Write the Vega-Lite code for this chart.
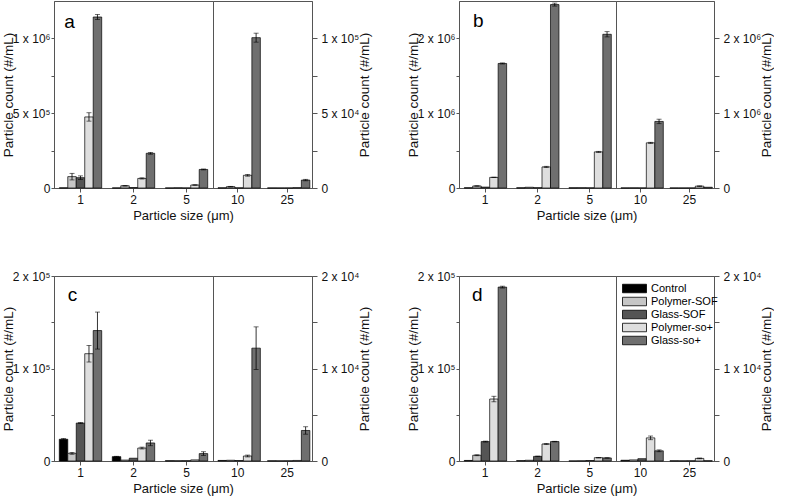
{
  "$schema": "https://vega.github.io/schema/vega-lite/v6.json",
  "padding": 0,
  "background": "white",
  "datasets": {
    "bars": [
      {"panel":"a","size":"1","group":"Control","value":1000},
      {"panel":"a","size":"1","group":"Polymer-SOF","value":76000,"lo":54000,"hi":98000},
      {"panel":"a","size":"1","group":"Glass-SOF","value":69000,"lo":57000,"hi":81000},
      {"panel":"a","size":"1","group":"Polymer-so+","value":475000,"lo":447000,"hi":503000},
      {"panel":"a","size":"1","group":"Glass-so+","value":1143000,"lo":1126000,"hi":1160000},
      {"panel":"a","size":"2","group":"Control","value":500},
      {"panel":"a","size":"2","group":"Polymer-SOF","value":15000,"lo":13000,"hi":17000},
      {"panel":"a","size":"2","group":"Glass-SOF","value":3000},
      {"panel":"a","size":"2","group":"Polymer-so+","value":64000,"lo":60000,"hi":68000},
      {"panel":"a","size":"2","group":"Glass-so+","value":232000,"lo":226000,"hi":238000},
      {"panel":"a","size":"5","group":"Control","value":300},
      {"panel":"a","size":"5","group":"Polymer-SOF","value":1500},
      {"panel":"a","size":"5","group":"Glass-SOF","value":300},
      {"panel":"a","size":"5","group":"Polymer-so+","value":20000,"lo":18000,"hi":22000},
      {"panel":"a","size":"5","group":"Glass-so+","value":124000,"lo":121000,"hi":127000},
      {"panel":"a","size":"10","group":"Control","value":100},
      {"panel":"a","size":"10","group":"Polymer-SOF","value":900,"lo":700,"hi":1100},
      {"panel":"a","size":"10","group":"Glass-SOF","value":100},
      {"panel":"a","size":"10","group":"Polymer-so+","value":8500,"lo":7900,"hi":9100},
      {"panel":"a","size":"10","group":"Glass-so+","value":100500,"lo":97500,"hi":103500},
      {"panel":"a","size":"25","group":"Control","value":30},
      {"panel":"a","size":"25","group":"Polymer-SOF","value":30},
      {"panel":"a","size":"25","group":"Glass-SOF","value":30},
      {"panel":"a","size":"25","group":"Polymer-so+","value":250},
      {"panel":"a","size":"25","group":"Glass-so+","value":5300,"lo":4800,"hi":5800},

      {"panel":"b","size":"1","group":"Control","value":3000},
      {"panel":"b","size":"1","group":"Polymer-SOF","value":27000,"lo":24000,"hi":30000},
      {"panel":"b","size":"1","group":"Glass-SOF","value":12000},
      {"panel":"b","size":"1","group":"Polymer-so+","value":142000,"lo":139000,"hi":145000},
      {"panel":"b","size":"1","group":"Glass-so+","value":1665000,"lo":1658000,"hi":1672000},
      {"panel":"b","size":"2","group":"Control","value":2000},
      {"panel":"b","size":"2","group":"Polymer-SOF","value":10000},
      {"panel":"b","size":"2","group":"Glass-SOF","value":4000},
      {"panel":"b","size":"2","group":"Polymer-so+","value":282000,"lo":274000,"hi":290000},
      {"panel":"b","size":"2","group":"Glass-so+","value":2452000,"lo":2432000,"hi":2472000},
      {"panel":"b","size":"5","group":"Control","value":2000},
      {"panel":"b","size":"5","group":"Polymer-SOF","value":4000},
      {"panel":"b","size":"5","group":"Glass-SOF","value":2000},
      {"panel":"b","size":"5","group":"Polymer-so+","value":483000,"lo":476000,"hi":490000},
      {"panel":"b","size":"5","group":"Glass-so+","value":2055000,"lo":2020000,"hi":2090000},
      {"panel":"b","size":"10","group":"Control","value":1000},
      {"panel":"b","size":"10","group":"Polymer-SOF","value":2000},
      {"panel":"b","size":"10","group":"Glass-SOF","value":1000},
      {"panel":"b","size":"10","group":"Polymer-so+","value":604000,"lo":597000,"hi":611000},
      {"panel":"b","size":"10","group":"Glass-so+","value":890000,"lo":860000,"hi":920000},
      {"panel":"b","size":"25","group":"Control","value":500},
      {"panel":"b","size":"25","group":"Polymer-SOF","value":500},
      {"panel":"b","size":"25","group":"Glass-SOF","value":500},
      {"panel":"b","size":"25","group":"Polymer-so+","value":25000,"lo":22000,"hi":28000},
      {"panel":"b","size":"25","group":"Glass-so+","value":10000},

      {"panel":"c","size":"1","group":"Control","value":23500,"lo":22700,"hi":24300},
      {"panel":"c","size":"1","group":"Polymer-SOF","value":8300,"lo":7300,"hi":9300},
      {"panel":"c","size":"1","group":"Glass-SOF","value":41000,"lo":40500,"hi":41500},
      {"panel":"c","size":"1","group":"Polymer-so+","value":116000,"lo":107000,"hi":125000},
      {"panel":"c","size":"1","group":"Glass-so+","value":141000,"lo":121000,"hi":161000},
      {"panel":"c","size":"2","group":"Control","value":4700,"lo":4300,"hi":5100},
      {"panel":"c","size":"2","group":"Polymer-SOF","value":1000},
      {"panel":"c","size":"2","group":"Glass-SOF","value":3000},
      {"panel":"c","size":"2","group":"Polymer-so+","value":14000,"lo":13000,"hi":15000},
      {"panel":"c","size":"2","group":"Glass-so+","value":19500,"lo":16500,"hi":22500},
      {"panel":"c","size":"5","group":"Control","value":300},
      {"panel":"c","size":"5","group":"Polymer-SOF","value":300},
      {"panel":"c","size":"5","group":"Glass-SOF","value":300},
      {"panel":"c","size":"5","group":"Polymer-so+","value":1200},
      {"panel":"c","size":"5","group":"Glass-so+","value":8000,"lo":6000,"hi":10000},
      {"panel":"c","size":"10","group":"Control","value":60},
      {"panel":"c","size":"10","group":"Polymer-SOF","value":80},
      {"panel":"c","size":"10","group":"Glass-SOF","value":50},
      {"panel":"c","size":"10","group":"Polymer-so+","value":540,"lo":440,"hi":640},
      {"panel":"c","size":"10","group":"Glass-so+","value":12200,"lo":9900,"hi":14500},
      {"panel":"c","size":"25","group":"Control","value":20},
      {"panel":"c","size":"25","group":"Polymer-SOF","value":20},
      {"panel":"c","size":"25","group":"Glass-SOF","value":20},
      {"panel":"c","size":"25","group":"Polymer-so+","value":60},
      {"panel":"c","size":"25","group":"Glass-so+","value":3300,"lo":2900,"hi":3700},

      {"panel":"d","size":"1","group":"Control","value":600},
      {"panel":"d","size":"1","group":"Polymer-SOF","value":6200,"lo":5700,"hi":6700},
      {"panel":"d","size":"1","group":"Glass-SOF","value":21000,"lo":20500,"hi":21500},
      {"panel":"d","size":"1","group":"Polymer-so+","value":67000,"lo":64000,"hi":70000},
      {"panel":"d","size":"1","group":"Glass-so+","value":188000,"lo":187000,"hi":189000},
      {"panel":"d","size":"2","group":"Control","value":400},
      {"panel":"d","size":"2","group":"Polymer-SOF","value":800},
      {"panel":"d","size":"2","group":"Glass-SOF","value":5000,"lo":4700,"hi":5300},
      {"panel":"d","size":"2","group":"Polymer-so+","value":18400,"lo":17800,"hi":19000},
      {"panel":"d","size":"2","group":"Glass-so+","value":21000,"lo":20700,"hi":21300},
      {"panel":"d","size":"5","group":"Control","value":100},
      {"panel":"d","size":"5","group":"Polymer-SOF","value":200},
      {"panel":"d","size":"5","group":"Glass-SOF","value":500},
      {"panel":"d","size":"5","group":"Polymer-so+","value":3600,"lo":3300,"hi":3900},
      {"panel":"d","size":"5","group":"Glass-so+","value":3300,"lo":3100,"hi":3500},
      {"panel":"d","size":"10","group":"Control","value":80},
      {"panel":"d","size":"10","group":"Polymer-SOF","value":120},
      {"panel":"d","size":"10","group":"Glass-SOF","value":250},
      {"panel":"d","size":"10","group":"Polymer-so+","value":2500,"lo":2300,"hi":2700},
      {"panel":"d","size":"10","group":"Glass-so+","value":1100,"lo":1000,"hi":1200},
      {"panel":"d","size":"25","group":"Control","value":20},
      {"panel":"d","size":"25","group":"Polymer-SOF","value":20},
      {"panel":"d","size":"25","group":"Glass-SOF","value":20},
      {"panel":"d","size":"25","group":"Polymer-so+","value":280,"lo":240,"hi":320},
      {"panel":"d","size":"25","group":"Glass-so+","value":30}
    ]
  },
  "data": {"name": "bars"},
  "spacing": 46,
  "vconcat": [
    {
      "spacing": 33,
      "hconcat": [
        {
          "spacing": 0, "bounds": "flush",
          "hconcat": [
            {
              "width": 159, "height": 187,
              "transform": [{"filter": {"field": "panel", "equal": "a"}}, {"filter": {"field": "size", "oneOf": ["1","2","5"]}}],
              "encoding": {"x": {"field": "size", "type": "nominal", "scale": {"domain": ["1","2","5"], "paddingInner": 0.2, "paddingOuter": 0.1}, "axis": {"title": "Particle size (μm)", "titleX": 129, "titleY": 21}}},
              "layer": [
                {"mark": {"type": "bar", "stroke": "#000", "strokeWidth": 0.7},
                 "encoding": {
                   "xOffset": {"field": "group", "type": "nominal", "scale": {"domain": ["Control","Polymer-SOF","Glass-SOF","Polymer-so+","Glass-so+"]}},
                   "y": {"field": "value", "type": "quantitative", "scale": {"domain": [0, 1250000], "nice": false}, "axis": {"orient": "left", "values": [0, 250000, 500000, 750000, 1000000], "labelExpr": "datum.value==0?'0':datum.value==500000?'5 x 10⁵':datum.value==1000000?'1 x 10⁶':''", "title": "Particle count (#/mL)", "titleX": -39}},
                   "color": {"field": "group", "type": "nominal", "title": null, "scale": {"domain": ["Control","Polymer-SOF","Glass-SOF","Polymer-so+","Glass-so+"], "range": ["#000000","#c6c6c6","#555555","#dedede","#6f6f6f"]}, "legend": {"orient": "none", "legendX": 575, "legendY": 282}}
                 }},
                {"mark": {"type": "rule", "color": "#000", "strokeWidth": 0.8},
                 "encoding": {"xOffset": {"field": "group", "type": "nominal"}, "y": {"field": "lo", "type": "quantitative"}, "y2": {"field": "hi"}}},
                {"mark": {"type": "tick", "color": "#000", "size": 5, "thickness": 0.8},
                 "encoding": {"xOffset": {"field": "group", "type": "nominal"}, "y": {"field": "hi", "type": "quantitative"}}},
                {"mark": {"type": "tick", "color": "#000", "size": 5, "thickness": 0.8},
                 "encoding": {"xOffset": {"field": "group", "type": "nominal"}, "y": {"field": "lo", "type": "quantitative"}}},
                {"data": {"values": [{"panel": "a", "size": "1", "t": "a"}]},
                 "mark": {"type": "text", "fontSize": 19, "dx": -11, "align": "center", "baseline": "middle", "color": "#000"},
                 "encoding": {"x": {"datum": "1"}, "y": {"datum": 1110000, "type": "quantitative"}, "text": {"field": "t"}}}
              ]
            },
            {
              "width": 99, "height": 187,
              "transform": [{"filter": {"field": "panel", "equal": "a"}}, {"filter": {"field": "size", "oneOf": ["10","25"]}}],
              "encoding": {"x": {"field": "size", "type": "nominal", "scale": {"domain": ["10","25"], "paddingInner": 0.2, "paddingOuter": 0.1}, "axis": {"title": null}}},
              "layer": [
                {"mark": {"type": "bar", "stroke": "#000", "strokeWidth": 0.7},
                 "encoding": {
                   "xOffset": {"field": "group", "type": "nominal", "scale": {"domain": ["Control","Polymer-SOF","Glass-SOF","Polymer-so+","Glass-so+"]}},
                   "y": {"field": "value", "type": "quantitative", "scale": {"domain": [0, 125000], "nice": false}, "axis": {"orient": "right", "values": [0, 25000, 50000, 75000, 100000], "labelExpr": "datum.value==0?'0':datum.value==50000?'5 x 10⁴':datum.value==100000?'1 x 10⁵':''", "title": "Particle count (#/mL)", "titleAngle": 270, "titlePadding": 13, "tickSize": 5, "labelPadding": 4}},
                   "color": {"field": "group", "type": "nominal", "title": null, "scale": {"domain": ["Control","Polymer-SOF","Glass-SOF","Polymer-so+","Glass-so+"], "range": ["#000000","#c6c6c6","#555555","#dedede","#6f6f6f"]}, "legend": {"orient": "none", "legendX": 575, "legendY": 282}}
                 }},
                {"mark": {"type": "rule", "color": "#000", "strokeWidth": 0.8},
                 "encoding": {"xOffset": {"field": "group", "type": "nominal"}, "y": {"field": "lo", "type": "quantitative"}, "y2": {"field": "hi"}}},
                {"mark": {"type": "tick", "color": "#000", "size": 5, "thickness": 0.8},
                 "encoding": {"xOffset": {"field": "group", "type": "nominal"}, "y": {"field": "hi", "type": "quantitative"}}},
                {"mark": {"type": "tick", "color": "#000", "size": 5, "thickness": 0.8},
                 "encoding": {"xOffset": {"field": "group", "type": "nominal"}, "y": {"field": "lo", "type": "quantitative"}}}
              ]
            }
          ]
        },
        {
          "spacing": 0, "bounds": "flush",
          "hconcat": [
            {
              "width": 157, "height": 187,
              "transform": [{"filter": {"field": "panel", "equal": "b"}}, {"filter": {"field": "size", "oneOf": ["1","2","5"]}}],
              "encoding": {"x": {"field": "size", "type": "nominal", "scale": {"domain": ["1","2","5"], "paddingInner": 0.2, "paddingOuter": 0.1}, "axis": {"title": "Particle size (μm)", "titleX": 127.5, "titleY": 21}}},
              "layer": [
                {"mark": {"type": "bar", "stroke": "#000", "strokeWidth": 0.7},
                 "encoding": {
                   "xOffset": {"field": "group", "type": "nominal", "scale": {"domain": ["Control","Polymer-SOF","Glass-SOF","Polymer-so+","Glass-so+"]}},
                   "y": {"field": "value", "type": "quantitative", "scale": {"domain": [0, 2500000], "nice": false}, "axis": {"orient": "left", "values": [0, 500000, 1000000, 1500000, 2000000], "labelExpr": "datum.value==0?'0':datum.value==1000000?'1 x 10⁶':datum.value==2000000?'2 x 10⁶':''", "title": "Particle count (#/mL)", "titleX": -39}},
                   "color": {"field": "group", "type": "nominal", "title": null, "scale": {"domain": ["Control","Polymer-SOF","Glass-SOF","Polymer-so+","Glass-so+"], "range": ["#000000","#c6c6c6","#555555","#dedede","#6f6f6f"]}, "legend": {"orient": "none", "legendX": 575, "legendY": 282}}
                 }},
                {"mark": {"type": "rule", "color": "#000", "strokeWidth": 0.8},
                 "encoding": {"xOffset": {"field": "group", "type": "nominal"}, "y": {"field": "lo", "type": "quantitative"}, "y2": {"field": "hi"}}},
                {"mark": {"type": "tick", "color": "#000", "size": 5, "thickness": 0.8},
                 "encoding": {"xOffset": {"field": "group", "type": "nominal"}, "y": {"field": "hi", "type": "quantitative"}}},
                {"mark": {"type": "tick", "color": "#000", "size": 5, "thickness": 0.8},
                 "encoding": {"xOffset": {"field": "group", "type": "nominal"}, "y": {"field": "lo", "type": "quantitative"}}},
                {"data": {"values": [{"panel": "b", "size": "1", "t": "b"}]},
                 "mark": {"type": "text", "fontSize": 19, "dx": -7, "align": "center", "baseline": "middle", "color": "#000"},
                 "encoding": {"x": {"datum": "1"}, "y": {"datum": 2233000, "type": "quantitative"}, "text": {"field": "t"}}}
              ]
            },
            {
              "width": 98, "height": 187,
              "transform": [{"filter": {"field": "panel", "equal": "b"}}, {"filter": {"field": "size", "oneOf": ["10","25"]}}],
              "encoding": {"x": {"field": "size", "type": "nominal", "scale": {"domain": ["10","25"], "paddingInner": 0.2, "paddingOuter": 0.1}, "axis": {"title": null}}},
              "layer": [
                {"mark": {"type": "bar", "stroke": "#000", "strokeWidth": 0.7},
                 "encoding": {
                   "xOffset": {"field": "group", "type": "nominal", "scale": {"domain": ["Control","Polymer-SOF","Glass-SOF","Polymer-so+","Glass-so+"]}},
                   "y": {"field": "value", "type": "quantitative", "scale": {"domain": [0, 2500000], "nice": false}, "axis": {"orient": "right", "values": [0, 500000, 1000000, 1500000, 2000000], "labelExpr": "datum.value==0?'0':datum.value==1000000?'1 x 10⁶':datum.value==2000000?'2 x 10⁶':''", "title": "Particle count (#/mL)", "titleAngle": 270, "titlePadding": 13, "tickSize": 5, "labelPadding": 4}},
                   "color": {"field": "group", "type": "nominal", "title": null, "scale": {"domain": ["Control","Polymer-SOF","Glass-SOF","Polymer-so+","Glass-so+"], "range": ["#000000","#c6c6c6","#555555","#dedede","#6f6f6f"]}, "legend": {"orient": "none", "legendX": 575, "legendY": 282}}
                 }},
                {"mark": {"type": "rule", "color": "#000", "strokeWidth": 0.8},
                 "encoding": {"xOffset": {"field": "group", "type": "nominal"}, "y": {"field": "lo", "type": "quantitative"}, "y2": {"field": "hi"}}},
                {"mark": {"type": "tick", "color": "#000", "size": 5, "thickness": 0.8},
                 "encoding": {"xOffset": {"field": "group", "type": "nominal"}, "y": {"field": "hi", "type": "quantitative"}}},
                {"mark": {"type": "tick", "color": "#000", "size": 5, "thickness": 0.8},
                 "encoding": {"xOffset": {"field": "group", "type": "nominal"}, "y": {"field": "lo", "type": "quantitative"}}}
              ]
            }
          ]
        }
      ]
    },
    {
      "spacing": 33,
      "hconcat": [
        {
          "spacing": 0, "bounds": "flush",
          "hconcat": [
            {
              "width": 159, "height": 185,
              "transform": [{"filter": {"field": "panel", "equal": "c"}}, {"filter": {"field": "size", "oneOf": ["1","2","5"]}}],
              "encoding": {"x": {"field": "size", "type": "nominal", "scale": {"domain": ["1","2","5"], "paddingInner": 0.2, "paddingOuter": 0.1}, "axis": {"title": "Particle size (μm)", "titleX": 129, "titleY": 21}}},
              "layer": [
                {"mark": {"type": "bar", "stroke": "#000", "strokeWidth": 0.7},
                 "encoding": {
                   "xOffset": {"field": "group", "type": "nominal", "scale": {"domain": ["Control","Polymer-SOF","Glass-SOF","Polymer-so+","Glass-so+"]}},
                   "y": {"field": "value", "type": "quantitative", "scale": {"domain": [0, 200000], "nice": false}, "axis": {"orient": "left", "values": [0, 50000, 100000, 150000, 200000], "labelExpr": "datum.value==0?'0':datum.value==100000?'1 x 10⁵':datum.value==200000?'2 x 10⁵':''", "title": "Particle count (#/mL)", "titleX": -39}},
                   "color": {"field": "group", "type": "nominal", "title": null, "scale": {"domain": ["Control","Polymer-SOF","Glass-SOF","Polymer-so+","Glass-so+"], "range": ["#000000","#c6c6c6","#555555","#dedede","#6f6f6f"]}, "legend": {"orient": "none", "legendX": 575, "legendY": 282}}
                 }},
                {"mark": {"type": "rule", "color": "#000", "strokeWidth": 0.8},
                 "encoding": {"xOffset": {"field": "group", "type": "nominal"}, "y": {"field": "lo", "type": "quantitative"}, "y2": {"field": "hi"}}},
                {"mark": {"type": "tick", "color": "#000", "size": 5, "thickness": 0.8},
                 "encoding": {"xOffset": {"field": "group", "type": "nominal"}, "y": {"field": "hi", "type": "quantitative"}}},
                {"mark": {"type": "tick", "color": "#000", "size": 5, "thickness": 0.8},
                 "encoding": {"xOffset": {"field": "group", "type": "nominal"}, "y": {"field": "lo", "type": "quantitative"}}},
                {"data": {"values": [{"panel": "c", "size": "1", "t": "c"}]},
                 "mark": {"type": "text", "fontSize": 19, "dx": -8, "align": "center", "baseline": "middle", "color": "#000"},
                 "encoding": {"x": {"datum": "1"}, "y": {"datum": 179500, "type": "quantitative"}, "text": {"field": "t"}}}
              ]
            },
            {
              "width": 99, "height": 185,
              "transform": [{"filter": {"field": "panel", "equal": "c"}}, {"filter": {"field": "size", "oneOf": ["10","25"]}}],
              "encoding": {"x": {"field": "size", "type": "nominal", "scale": {"domain": ["10","25"], "paddingInner": 0.2, "paddingOuter": 0.1}, "axis": {"title": null}}},
              "layer": [
                {"mark": {"type": "bar", "stroke": "#000", "strokeWidth": 0.7},
                 "encoding": {
                   "xOffset": {"field": "group", "type": "nominal", "scale": {"domain": ["Control","Polymer-SOF","Glass-SOF","Polymer-so+","Glass-so+"]}},
                   "y": {"field": "value", "type": "quantitative", "scale": {"domain": [0, 20000], "nice": false}, "axis": {"orient": "right", "values": [0, 5000, 10000, 15000, 20000], "labelExpr": "datum.value==0?'0':datum.value==10000?'1 x 10⁴':datum.value==20000?'2 x 10⁴':''", "title": "Particle count (#/mL)", "titleAngle": 270, "titlePadding": 13, "tickSize": 5, "labelPadding": 4}},
                   "color": {"field": "group", "type": "nominal", "title": null, "scale": {"domain": ["Control","Polymer-SOF","Glass-SOF","Polymer-so+","Glass-so+"], "range": ["#000000","#c6c6c6","#555555","#dedede","#6f6f6f"]}, "legend": {"orient": "none", "legendX": 575, "legendY": 282}}
                 }},
                {"mark": {"type": "rule", "color": "#000", "strokeWidth": 0.8},
                 "encoding": {"xOffset": {"field": "group", "type": "nominal"}, "y": {"field": "lo", "type": "quantitative"}, "y2": {"field": "hi"}}},
                {"mark": {"type": "tick", "color": "#000", "size": 5, "thickness": 0.8},
                 "encoding": {"xOffset": {"field": "group", "type": "nominal"}, "y": {"field": "hi", "type": "quantitative"}}},
                {"mark": {"type": "tick", "color": "#000", "size": 5, "thickness": 0.8},
                 "encoding": {"xOffset": {"field": "group", "type": "nominal"}, "y": {"field": "lo", "type": "quantitative"}}}
              ]
            }
          ]
        },
        {
          "spacing": 0, "bounds": "flush",
          "hconcat": [
            {
              "width": 157, "height": 185,
              "transform": [{"filter": {"field": "panel", "equal": "d"}}, {"filter": {"field": "size", "oneOf": ["1","2","5"]}}],
              "encoding": {"x": {"field": "size", "type": "nominal", "scale": {"domain": ["1","2","5"], "paddingInner": 0.2, "paddingOuter": 0.1}, "axis": {"title": "Particle size (μm)", "titleX": 127.5, "titleY": 21}}},
              "layer": [
                {"mark": {"type": "bar", "stroke": "#000", "strokeWidth": 0.7},
                 "encoding": {
                   "xOffset": {"field": "group", "type": "nominal", "scale": {"domain": ["Control","Polymer-SOF","Glass-SOF","Polymer-so+","Glass-so+"]}},
                   "y": {"field": "value", "type": "quantitative", "scale": {"domain": [0, 200000], "nice": false}, "axis": {"orient": "left", "values": [0, 50000, 100000, 150000, 200000], "labelExpr": "datum.value==0?'0':datum.value==100000?'1 x 10⁵':datum.value==200000?'2 x 10⁵':''", "title": "Particle count (#/mL)", "titleX": -39}},
                   "color": {"field": "group", "type": "nominal", "title": null, "scale": {"domain": ["Control","Polymer-SOF","Glass-SOF","Polymer-so+","Glass-so+"], "range": ["#000000","#c6c6c6","#555555","#dedede","#6f6f6f"]}, "legend": {"orient": "none", "legendX": 575, "legendY": 282}}
                 }},
                {"mark": {"type": "rule", "color": "#000", "strokeWidth": 0.8},
                 "encoding": {"xOffset": {"field": "group", "type": "nominal"}, "y": {"field": "lo", "type": "quantitative"}, "y2": {"field": "hi"}}},
                {"mark": {"type": "tick", "color": "#000", "size": 5, "thickness": 0.8},
                 "encoding": {"xOffset": {"field": "group", "type": "nominal"}, "y": {"field": "hi", "type": "quantitative"}}},
                {"mark": {"type": "tick", "color": "#000", "size": 5, "thickness": 0.8},
                 "encoding": {"xOffset": {"field": "group", "type": "nominal"}, "y": {"field": "lo", "type": "quantitative"}}},
                {"data": {"values": [{"panel": "d", "size": "1", "t": "d"}]},
                 "mark": {"type": "text", "fontSize": 19, "dx": -8, "align": "center", "baseline": "middle", "color": "#000"},
                 "encoding": {"x": {"datum": "1"}, "y": {"datum": 179500, "type": "quantitative"}, "text": {"field": "t"}}}
              ]
            },
            {
              "width": 98, "height": 185,
              "transform": [{"filter": {"field": "panel", "equal": "d"}}, {"filter": {"field": "size", "oneOf": ["10","25"]}}],
              "encoding": {"x": {"field": "size", "type": "nominal", "scale": {"domain": ["10","25"], "paddingInner": 0.2, "paddingOuter": 0.1}, "axis": {"title": null}}},
              "layer": [
                {"mark": {"type": "bar", "stroke": "#000", "strokeWidth": 0.7},
                 "encoding": {
                   "xOffset": {"field": "group", "type": "nominal", "scale": {"domain": ["Control","Polymer-SOF","Glass-SOF","Polymer-so+","Glass-so+"]}},
                   "y": {"field": "value", "type": "quantitative", "scale": {"domain": [0, 20000], "nice": false}, "axis": {"orient": "right", "values": [0, 5000, 10000, 15000, 20000], "labelExpr": "datum.value==0?'0':datum.value==10000?'1 x 10⁴':datum.value==20000?'2 x 10⁴':''", "title": "Particle count (#/mL)", "titleAngle": 270, "titlePadding": 13, "tickSize": 5, "labelPadding": 4}},
                   "color": {"field": "group", "type": "nominal", "title": null, "scale": {"domain": ["Control","Polymer-SOF","Glass-SOF","Polymer-so+","Glass-so+"], "range": ["#000000","#c6c6c6","#555555","#dedede","#6f6f6f"]}, "legend": {"orient": "none", "legendX": 575, "legendY": 282}}
                 }},
                {"mark": {"type": "rule", "color": "#000", "strokeWidth": 0.8},
                 "encoding": {"xOffset": {"field": "group", "type": "nominal"}, "y": {"field": "lo", "type": "quantitative"}, "y2": {"field": "hi"}}},
                {"mark": {"type": "tick", "color": "#000", "size": 5, "thickness": 0.8},
                 "encoding": {"xOffset": {"field": "group", "type": "nominal"}, "y": {"field": "hi", "type": "quantitative"}}},
                {"mark": {"type": "tick", "color": "#000", "size": 5, "thickness": 0.8},
                 "encoding": {"xOffset": {"field": "group", "type": "nominal"}, "y": {"field": "lo", "type": "quantitative"}}}
              ]
            }
          ]
        }
      ]
    }
  ],
  "config": {
    "font": "Liberation Sans",
    "view": {"stroke": "#555", "strokeWidth": 1},
    "axis": {"domainColor": "#555", "tickColor": "#555", "labelColor": "#111", "titleColor": "#111", "labelFont": "Liberation Sans", "titleFont": "Liberation Sans", "labelFontSize": 11, "titleFontSize": 13.5, "titleFontWeight": "normal", "grid": false, "tickSize": 4},
    "axisX": {"labelFontSize": 12, "labelAngle": 0, "labelPadding": 2, "titleFontSize": 13},
    "axisY": {"labelPadding": 1, "titlePadding": 1, "tickSize": 3, "labelFontSize": 12},
    "legend": {"symbolType": "M-2.4,-0.85H2.4V0.85H-2.4Z", "symbolSize": 100, "symbolStrokeColor": "#000", "symbolStrokeWidth": 0.8, "symbolOpacity": 1, "labelFontSize": 11, "labelColor": "#000", "labelFont": "Liberation Sans", "rowPadding": 0, "labelOffset": 11, "padding": 0, "symbolOffset": 0}
  }
}
